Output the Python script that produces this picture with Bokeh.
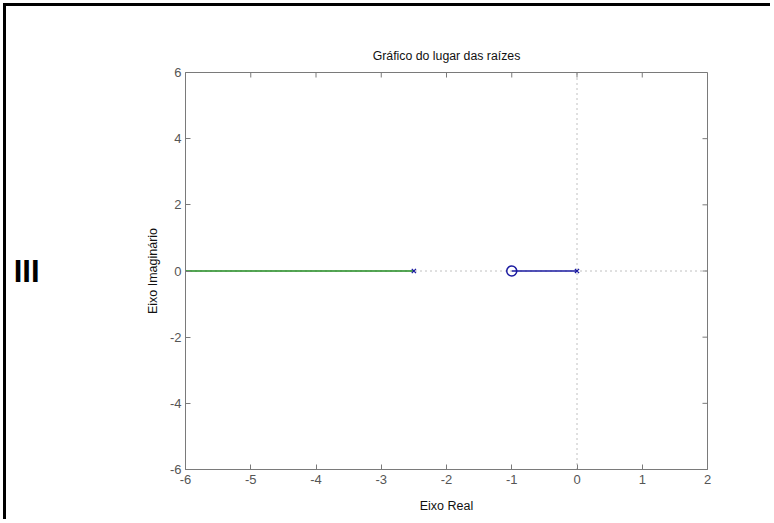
from bokeh.plotting import figure
from bokeh.models import LinearAxis, FixedTicker, Range1d
from bokeh.embed import file_html
from bokeh.resources import INLINE

# Data
x_ticks = [-6, -5, -4, -3, -2, -1, 0, 1, 2]
y_ticks = [-6, -4, -2, 0, 2, 4, 6]
branch_green_x = [-6.0, -2.5]
branch_green_y = [0.0, 0.0]
branch_blue_x = [-1.0, 0.0]
branch_blue_y = [0.0, 0.0]
poles_x = [-2.5, 0.0]
poles_y = [0.0, 0.0]
zeros_x = [-1.0]
zeros_y = [0.0]
real_axis_x = [-6, 2]
real_axis_y = [0, 0]
imag_axis_x = [0, 0]
imag_axis_y = [-6, 6]
x_min, x_max = -6, 2
y_min, y_max = -6, 6

FONT = "Liberation Sans"
AX = "#7a7a7a"

p = figure(width=770, height=519, output_backend="svg", toolbar_location=None,
           x_range=Range1d(x_min, x_max), y_range=Range1d(y_min, y_max),
           title="Gráfico do lugar das raízes",
           min_border_left=185, min_border_right=63, min_border_top=72, min_border_bottom=50)
p.styles = {"background-color": "white",
            "box-shadow": "inset 3px 3px 0 0 white, inset 6px 6px 0 0 black"}
p.background_fill_color = "white"
p.border_fill_color = None
p.outline_line_color = AX
p.outline_line_width = 1
p.grid.visible = False

p.title.align = "center"
p.title.text_font = FONT
p.title.text_font_size = "12.3px"
p.title.text_font_style = "normal"
p.title.text_color = "#111111"
p.title.offset = 0
p.title.standoff = 20

for ax, ticks in ((p.xaxis[0], x_ticks), (p.yaxis[0], y_ticks)):
    ax.ticker = FixedTicker(ticks=ticks)
    ax.major_label_overrides = {t: str(t) for t in ticks}
    ax.axis_line_color = AX
    ax.major_tick_line_color = AX
    ax.major_tick_in = 5
    ax.major_tick_out = 0
    ax.minor_tick_line_color = None
    ax.major_label_text_font = FONT
    ax.major_label_text_font_size = "13px"
    ax.major_label_text_color = "#555555"
    ax.axis_label_text_font = FONT
    ax.axis_label_text_font_size = "12.5px"
    ax.axis_label_text_font_style = "normal"
    ax.axis_label_text_color = "#111111"

p.xaxis[0].axis_label = "Eixo Real"
p.xaxis[0].major_label_standoff = 5
p.xaxis[0].axis_label_standoff = 12
p.yaxis[0].axis_label = "Eixo Imaginário"
p.yaxis[0].major_label_standoff = 4
p.yaxis[0].axis_label_standoff = 7

# extra left axis only carrying the "III" marker text
side = LinearAxis(ticker=FixedTicker(ticks=[]), axis_line_color=None,
                  major_tick_line_color=None, minor_tick_line_color=None,
                  axis_label="III", axis_label_orientation="horizontal",
                  axis_label_text_font=FONT, axis_label_text_font_size="31px",
                  axis_label_text_font_style="bold", axis_label_text_color="black",
                  axis_label_standoff=103)
p.add_layout(side, "left")

# top and right inward ticks (box style)
top_len = (y_max - y_min) * 5 / 397
right_len = (x_max - x_min) * 5 / 522
p.segment(x0=x_ticks, y0=[y_max] * len(x_ticks), x1=x_ticks,
          y1=[y_max - top_len] * len(x_ticks), line_color=AX, line_width=1)
p.segment(x0=[x_max] * len(y_ticks), y0=y_ticks, x1=[x_max - right_len] * len(y_ticks),
          y1=y_ticks, line_color=AX, line_width=1)

# dotted axes lines
p.line(real_axis_x, real_axis_y, line_color="#808080", line_dash="1 4", line_width=1)
p.line(imag_axis_x, imag_axis_y, line_color="#808080", line_dash="1 4", line_width=1)

# branches
p.line(branch_green_x, branch_green_y, line_color="#1e8a1e", line_width=1.3)
p.line(branch_blue_x, branch_blue_y, line_color="#1a1aa0", line_width=1.3)

# poles & zeros
p.scatter(poles_x, poles_y, marker="x", size=6, line_color="#1a1aa0", line_width=1.3)
p.scatter(zeros_x, zeros_y, marker="circle", size=10, line_color="#1a1aa0",
          fill_color=None, line_width=1.5)

open("out.html", "w").write(file_html(p, INLINE))
